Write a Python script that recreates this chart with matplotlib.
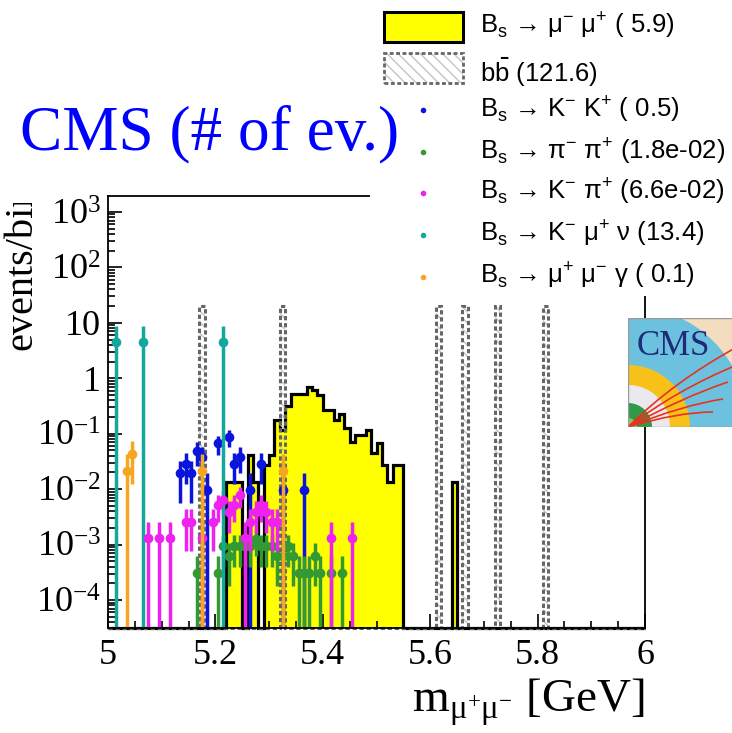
import numpy as np
import matplotlib
matplotlib.use("Agg")
import matplotlib.pyplot as plt
from matplotlib.patches import Rectangle, Wedge, PathPatch
from matplotlib.lines import Line2D
from matplotlib.path import Path
from matplotlib.ticker import MultipleLocator, LogLocator, NullFormatter

plt.rcParams['font.family'] = ['Liberation Serif', 'DejaVu Serif']

W, H = 732, 733
YMIN, YMAX = 3.13e-5, 1.94e3

# ---------------- data ----------------
# Bs -> mu mu signal histogram (bin low edge, content), bin width 0.01 GeV
sig_lo = [5.22, 5.23, 5.24, 5.26, 5.27, 5.29, 5.30, 5.31, 5.32, 5.33, 5.34, 5.35,
          5.36, 5.37, 5.38, 5.39, 5.40, 5.41, 5.42, 5.43, 5.44, 5.45, 5.46, 5.47,
          5.48, 5.49, 5.50, 5.51, 5.52, 5.53, 5.54, 5.64]
sig_val = [0.0135, 0.0135, 0.0135, 0.041, 0.0135, 0.027, 0.041, 0.18, 0.116, 0.32,
           0.51, 0.51, 0.51, 0.70, 0.61, 0.494, 0.272, 0.272, 0.175, 0.23, 0.129,
           0.071, 0.094, 0.094, 0.119, 0.044, 0.068, 0.027, 0.0135, 0.027, 0.027,
           0.0135]
# b bbar background
bb_lo = [5.17, 5.32, 5.61, 5.66, 5.72, 5.81]
bb_val = [20.27, 20.27, 20.27, 20.27, 20.27, 20.27]

# point series: bin centres, entries, weight per entry
kk_x = [5.135, 5.145, 5.155, 5.165, 5.175, 5.185, 5.205, 5.225, 5.235, 5.245,
        5.265, 5.285, 5.325, 5.365]
kk_n = [2, 3, 2, 5, 4, 1, 7, 9, 3, 4, 1, 3, 1, 1]
kk_w = 0.0096

pipi_x = [5.165, 5.205, 5.215, 5.225, 5.235, 5.245, 5.255, 5.265, 5.275, 5.285,
          5.295, 5.305, 5.315, 5.325, 5.335, 5.345, 5.355, 5.365, 5.375, 5.385,
          5.395, 5.415, 5.435]
pipi_n = [1, 1, 3, 2, 3, 3, 3, 3, 4, 3, 3, 3, 2, 2, 3, 2, 1, 1, 1, 2, 1, 1, 1]
pipi_w = 0.00031

kpi_x = [5.075, 5.095, 5.115, 5.145, 5.155, 5.175, 5.195, 5.205, 5.215, 5.225,
         5.235, 5.245, 5.255, 5.265, 5.275, 5.285, 5.295, 5.305, 5.315, 5.415, 5.455]
kpi_n = [1, 1, 1, 2, 2, 1, 2, 4, 5, 3, 4, 6, 1, 2, 3, 4, 3, 2, 2, 1, 1]
kpi_w = 0.0013

kmunu_x = [5.015, 5.065, 5.215]
kmunu_n = [1, 1, 1]
kmunu_w = 4.47

mumug_x = [5.035, 5.045, 5.175, 5.325]
mumug_n = [1, 2, 1, 1]
mumug_w = 0.0215

legend_labels = [
    r"B$_{\mathregular{s}}$ → μ$^{\mathregular{-}}$ μ$^{\mathregular{+}}$ ( 5.9)",
    r"b$\bar{\mathregular{b}}$ (121.6)",
    r"B$_{\mathregular{s}}$ → K$^{\mathregular{-}}$ K$^{\mathregular{+}}$ ( 0.5)",
    r"B$_{\mathregular{s}}$ → π$^{\mathregular{-}}$ π$^{\mathregular{+}}$ (1.8e-02)",
    r"B$_{\mathregular{s}}$ → K$^{\mathregular{-}}$ π$^{\mathregular{+}}$ (6.6e-02)",
    r"B$_{\mathregular{s}}$ → K$^{\mathregular{-}}$ μ$^{\mathregular{+}}$ ν (13.4)",
    r"B$_{\mathregular{s}}$ → μ$^{\mathregular{+}}$ μ$^{\mathregular{-}}$ γ ( 0.1)",
]
xtick_vals = [5.0, 5.2, 5.4, 5.6, 5.8, 6.0]
xtick_labels = ["5", "5.2", "5.4", "5.6", "5.8", "6"]
ytick_vals = [1e-4, 1e-3, 1e-2, 1e-1, 1, 10, 1e2, 1e3]
ytick_labels = [r"$\mathregular{10^{-4}}$", r"$\mathregular{10^{-3}}$",
                r"$\mathregular{10^{-2}}$", r"$\mathregular{10^{-1}}$", "1", "10",
                r"$\mathregular{10^{2}}$", r"$\mathregular{10^{3}}$"]

C_KK, C_PIPI, C_KPI, C_KMUNU, C_MUMUG = '#0a14dc', '#339933', '#ee22ee', '#14a89c', '#f5a623'
C_BB = '#666666'


def fx(X):
    return X / W


def fy(Y):
    return 1 - Y / H


fig = plt.figure(figsize=(W / 100, H / 100), dpi=100)
ax = fig.add_axes([fx(108), fy(628), (645 - 108) / W, (628 - 196) / H])
ax.set_yscale('log')

edges = np.round(5.0 + 0.01 * np.arange(101), 3)


def to_bins(lo, vals):
    arr = np.zeros(100)
    for l, v in zip(lo, vals):
        arr[int(round((l - 5.0) / 0.01))] = v
    return np.maximum(arr, YMIN)


sig = to_bins(sig_lo, sig_val)
bb = to_bins(bb_lo, bb_val)

ax.stairs(sig, edges, baseline=YMIN, fill=True, color='#ffff00', lw=0, zorder=1)
ax.stairs(sig, edges, baseline=YMIN, fill=False, color='black', lw=2.3,
          zorder=1.5, clip_on=False)

ax.bar(bb_lo, bb_val, width=0.01, align='edge', bottom=YMIN, facecolor='none',
       edgecolor='#c4c4c4', linewidth=0, hatch='\\\\\\', zorder=2)
ax.stairs(bb, edges, baseline=YMIN, fill=False, color=C_BB, lw=2.2,
          ls=(0, (1.4, 0.9)), zorder=2.1, clip_on=False)


def draw_points(xs, ns, w, color, z):
    xs = np.asarray(xs, float)
    ns = np.asarray(ns, float)
    val = ns * w
    err = np.sqrt(ns) * w
    lo = np.where(val - err <= 0, val - YMIN * 0.05, err)
    ax.errorbar(xs, val, yerr=[lo, err], fmt='o', color=color, ms=7, mew=0,
                elinewidth=2.5, capsize=2, capthick=2.5, zorder=z)


draw_points(kk_x, kk_n, kk_w, C_KK, 3)
draw_points(pipi_x, pipi_n, pipi_w, C_PIPI, 3.1)
draw_points(kpi_x, kpi_n, kpi_w, C_KPI, 3.2)
draw_points(kmunu_x, kmunu_n, kmunu_w, C_KMUNU, 3.3)
draw_points(mumug_x, mumug_n, mumug_w, C_MUMUG, 3.4)

ax.set_xlim(5.0, 6.0)
ax.set_ylim(YMIN, YMAX)
ax.set_xticks(xtick_vals)
ax.set_xticklabels(xtick_labels)
ax.xaxis.set_minor_locator(MultipleLocator(0.05))
ax.set_yticks(ytick_vals)
ax.set_yticklabels(ytick_labels)
ax.yaxis.set_minor_locator(LogLocator(base=10, subs=np.arange(2, 10), numticks=30))
ax.yaxis.set_minor_formatter(NullFormatter())
ax.tick_params(which='both', direction='in', top=False, right=False, width=1.2,
               labelsize=26)
ax.tick_params(which='major', length=10)
ax.tick_params(which='minor', length=5)
ax.tick_params(axis='x', pad=8)
ax.tick_params(axis='y', pad=5)
for s in ax.spines.values():
    s.set_linewidth(1.3)
    s.set_zorder(5)

# axis titles
fig.text(fx(645), fy(712), r"m$_{\mathregular{μ^{+}μ^{-}}}$ [GeV]", ha='right',
         va='baseline', fontsize=34)
fig.text(fx(22), fy(350), "events/bin", rotation=90, ha='center', va='bottom',
         fontsize=29, zorder=3)
fig.add_artist(Rectangle((0, fy(203)), 56 / W, 203 / H, transform=fig.transFigure,
                         facecolor='white', edgecolor='none', zorder=3.5))
fig.text(fx(20), fy(149), "CMS (# of ev.)", color='#0000ff', fontsize=45.5, zorder=5)

# legend
fig.add_artist(Rectangle((fx(370), fy(296)), (W - 370) / W, 296 / H,
                         transform=fig.transFigure, facecolor='white',
                         edgecolor='none', zorder=1.5))
fig.add_artist(Rectangle((fx(384), fy(42)), 79 / W, 30 / H, transform=fig.transFigure,
                         facecolor='#ffff00', edgecolor='black', lw=2.2, zorder=2))
fig.add_artist(Rectangle((fx(384), fy(83)), 79 / W, 30 / H, transform=fig.transFigure,
                         facecolor='none', edgecolor='#c4c4c4', lw=0,
                         hatch='\\\\\\', zorder=2))
fig.add_artist(Rectangle((fx(384), fy(83)), 79 / W, 30 / H, transform=fig.transFigure,
                         fill=False, edgecolor=C_BB, lw=2.0, ls=(0, (1.4, 0.9)),
                         zorder=2.1))
dot_colors = [C_KK, C_PIPI, C_KPI, C_KMUNU, C_MUMUG]
dot_y = [110, 152, 193, 235, 277]
for c, yy in zip(dot_colors, dot_y):
    fig.add_artist(Line2D([fx(423)], [fy(yy)], marker='o', ms=4, color=c, ls='none',
                          mew=0, transform=fig.transFigure, zorder=2))
base_y = [32, 82, 117, 158, 199, 241, 282]
for lab, by in zip(legend_labels, base_y):
    fig.text(fx(480), fy(by), lab, fontsize=18.5, va='baseline',
             family=['Liberation Sans', 'DejaVu Sans'], zorder=5)

# CMS logo
lax = fig.add_axes([fx(628), fy(427), 109 / W, 109 / H])
lax.set_xlim(0, 109)
lax.set_ylim(0, 109)
lax.axis('off')
lax.add_patch(Rectangle((0, 0), 109, 109, facecolor='#f4dcbf', edgecolor='none'))
for r, c in [(121, '#6cc2de'), (62, '#f8c11a'), (42, '#ece8f0'), (24, '#2f9b48'),
             (9, '#8dcc5c')]:
    lax.add_patch(Wedge((0, 0), r, 0, 90, facecolor=c, edgecolor='none'))
tracks = [((45, 45), (109, 80)), ((50, 38), (109, 62)), ((55, 30), (100, 45)),
          ((55, 22), (95, 28)), ((50, 15), (85, 15))]
for ctrl, end in tracks:
    p = Path([(0, 0), ctrl, end], [Path.MOVETO, Path.CURVE3, Path.CURVE3])
    lax.add_patch(PathPatch(p, facecolor='none', edgecolor='#e8321e', lw=1.2))
lax.text(9, 72, "CMS", fontsize=25, color='#1f2a78', va='baseline')
lax.add_patch(Rectangle((0, 0), 109, 109, fill=False, edgecolor='#999999', lw=1.0))

fig.savefig("out.png", dpi=100)
